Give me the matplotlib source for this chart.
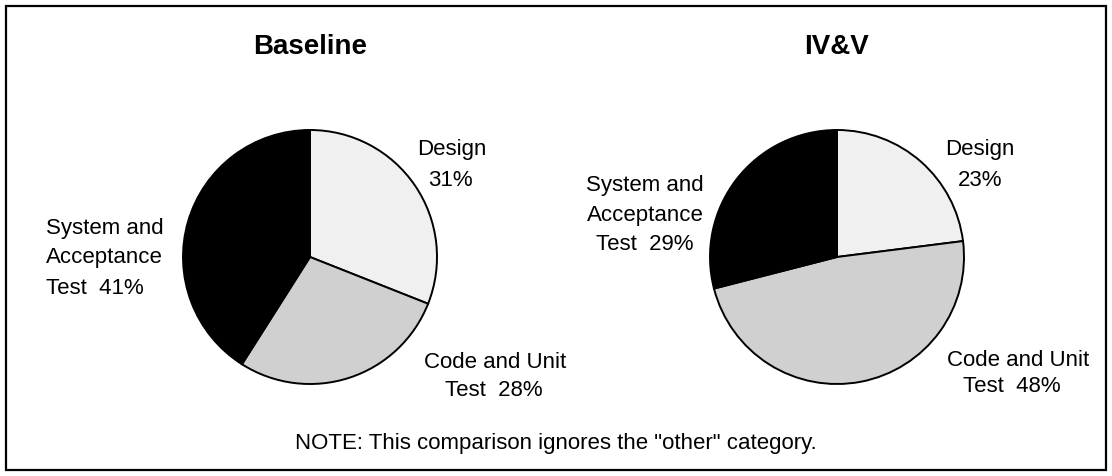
import matplotlib
matplotlib.use("Agg")
import matplotlib.pyplot as plt
from matplotlib.patches import Rectangle

plt.rcParams['font.family'] = ['Liberation Sans', 'DejaVu Sans']

categories = ["Design", "Code and Unit Test", "System and Acceptance Test"]
baseline_values = [31, 28, 41]
ivv_values = [23, 48, 29]
titles = ["Baseline", "IV&V"]
colors = ["#f0f0f0", "#d0d0d0", "#000000"]
note = 'NOTE: This comparison ignores the "other" category.'

W, H = 1112, 476
fig = plt.figure(figsize=(W / 100, H / 100), dpi=100)

def px(x, y):
    return x / W, 1 - y / H

# border frame
fig.patches.append(Rectangle((6 / W, 6 / H), (1106 - 6) / W, (470 - 6) / H,
                             transform=fig.transFigure, fill=False,
                             edgecolor="black", linewidth=1.6))

R = 127
pad = 1.03
for (cx, cy), vals, title in [((310, 257), baseline_values, titles[0]),
                              ((837, 257), ivv_values, titles[1])]:
    r = R * pad
    ax = fig.add_axes([(cx - r) / W, (H - cy - r) / H, 2 * r / W, 2 * r / H])
    ax.pie(vals, colors=colors, startangle=90, counterclock=False,
           wedgeprops=dict(edgecolor="black", linewidth=1.4))
    ax.set_xlim(-pad, pad)
    ax.set_ylim(-pad, pad)
    ax.set_aspect("equal")
    ax.axis("off")
    fig.text(*px(cx, 47), title, ha="center", va="center",
             fontsize=20, fontweight="bold")

fs = 16
labels = [
    ("Design", 452, 150, "center"),
    (f"{baseline_values[0]}%", 450, 180, "center"),
    ("Code and Unit", 495, 362, "center"),
    (f"Test  {baseline_values[1]}%", 494, 390, "center"),
    ("System and", 46, 228, "left"),
    ("Acceptance", 46, 257, "left"),
    (f"Test  {baseline_values[2]}%", 46, 289, "left"),
    ("Design", 980, 150, "center"),
    (f"{ivv_values[0]}%", 980, 180, "center"),
    ("Code and Unit", 1018, 360, "center"),
    (f"Test  {ivv_values[1]}%", 1012, 387, "center"),
    ("System and", 645, 186, "center"),
    ("Acceptance", 645, 216, "center"),
    (f"Test  {ivv_values[2]}%", 645, 245, "center"),
]
for txt, x, y, ha in labels:
    fig.text(*px(x, y), txt, ha=ha, va="center", fontsize=fs)

fig.text(*px(556, 444), note, ha="center", va="center", fontsize=fs)

fig.savefig("out.png", dpi=100)
